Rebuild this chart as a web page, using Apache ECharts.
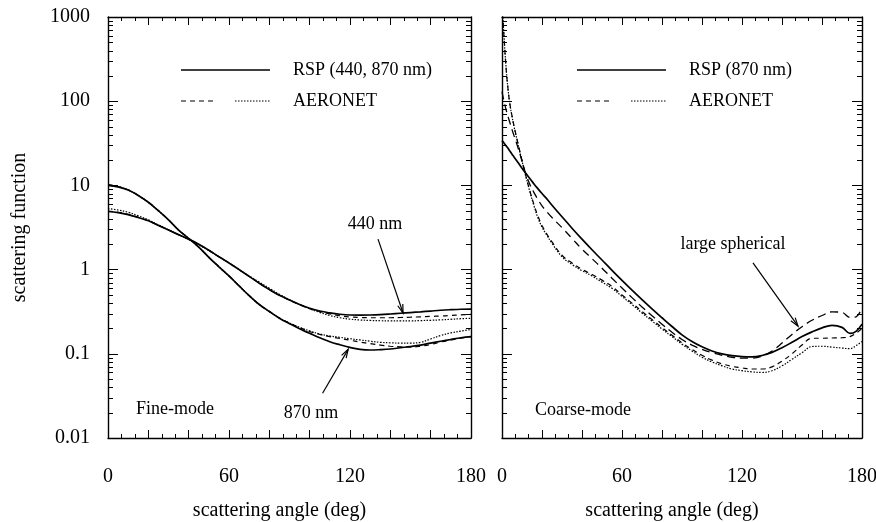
<!DOCTYPE html>
<html>
<head>
<meta charset="utf-8">
<script src="https://cdn.jsdelivr.net/npm/echarts@6/dist/echarts.min.js"></script>
<style>
  html, body { margin: 0; background: #fff; }
  #main { width: 876px; height: 522px; }
</style>
</head>
<body>
<div id="main"></div>
<script>
// ---- data ----
const yTickLabels = ['0.01', '0.1', '1', '10', '100', '1000'];
const yMinorSteps = [2, 3, 4, 5, 6, 7, 8, 9];
const yDecades = [0.01, 0.1, 1, 10, 100];
const xTickLabels = [0, 60, 120, 180];

// fine mode panel
const fineAngles = [0, 5, 10, 15, 20, 25, 30, 35, 40, 45, 50, 55, 60, 65, 70, 75, 80, 85, 90,
  95, 100, 105, 110, 115, 120, 125, 130, 135, 140, 145, 150, 155, 160, 165, 170, 175, 180];
const rsp440 = [4.9, 4.75, 4.5, 4.15, 3.8, 3.35, 2.95, 2.6, 2.3, 2.0, 1.7, 1.42, 1.2, 1.0, 0.83, 0.69, 0.58, 0.495, 0.435,
  0.385, 0.348, 0.322, 0.306, 0.295, 0.289, 0.288, 0.289, 0.292, 0.297, 0.303, 0.309, 0.315, 0.322, 0.329, 0.334, 0.338, 0.34];
const rsp870 = [10.0, 9.6, 8.8, 7.6, 6.3, 5.0, 3.9, 2.95, 2.35, 1.85, 1.4, 1.08, 0.84, 0.64, 0.49, 0.385, 0.318, 0.265, 0.228,
  0.198, 0.175, 0.155, 0.139, 0.128, 0.119, 0.113, 0.111, 0.112, 0.114, 0.118, 0.122, 0.127, 0.134, 0.141, 0.148, 0.155, 0.16];
const aer440Dash = [4.95, 4.8, 4.52, 4.17, 3.8, 3.36, 2.96, 2.6, 2.3, 2.0, 1.7, 1.42, 1.2, 1.0, 0.83, 0.69, 0.58, 0.495, 0.435,
  0.383, 0.343, 0.318, 0.298, 0.283, 0.274, 0.27, 0.268, 0.268, 0.268, 0.27, 0.272, 0.275, 0.278, 0.281, 0.285, 0.29, 0.295];
const aer440Dot = [5.3, 5.1, 4.8, 4.35, 3.9, 3.4, 2.98, 2.6, 2.28, 1.97, 1.68, 1.42, 1.2, 1.0, 0.84, 0.71, 0.6, 0.51, 0.44,
  0.385, 0.342, 0.31, 0.285, 0.268, 0.258, 0.252, 0.249, 0.247, 0.246, 0.246, 0.246, 0.248, 0.25, 0.253, 0.257, 0.261, 0.264];
const aer870Dash = [10.2, 9.7, 8.85, 7.6, 6.3, 5.0, 3.9, 2.95, 2.35, 1.85, 1.4, 1.08, 0.84, 0.64, 0.49, 0.385, 0.318, 0.266, 0.232,
  0.205, 0.184, 0.17, 0.16, 0.152, 0.145, 0.138, 0.132, 0.127, 0.123, 0.121, 0.12, 0.123, 0.129, 0.138, 0.146, 0.153, 0.16];
const aer870Dot = [10.1, 9.65, 8.8, 7.6, 6.3, 5.0, 3.9, 2.95, 2.35, 1.85, 1.4, 1.08, 0.84, 0.64, 0.49, 0.385, 0.318, 0.266, 0.232,
  0.206, 0.187, 0.172, 0.163, 0.157, 0.151, 0.146, 0.141, 0.137, 0.135, 0.134, 0.134, 0.137, 0.15, 0.165, 0.177, 0.186, 0.195];

// coarse mode panel
const coarseAngles = [0, 1, 2, 3, 4, 5, 6, 8, 10, 12, 14, 16, 18, 20, 22, 25, 30, 35, 40, 45, 50, 55, 60, 65, 70, 75, 80, 85,
  90, 95, 100, 105, 110, 115, 120, 125, 130, 135, 140, 145, 150, 155, 160, 165, 170, 174, 177, 180];
const rspCoarse = [34, 31.8, 29.6, 27.6, 25.4, 23.5, 21.8, 18.7, 16, 13.8, 12, 10.4, 9.1, 8.0, 7.1, 5.8, 4.25, 3.1, 2.3, 1.72, 1.3, 0.98, 0.745, 0.57, 0.44, 0.342, 0.268, 0.211,
  0.168, 0.14, 0.121, 0.108, 0.1, 0.095, 0.0925, 0.092, 0.0955, 0.104, 0.118, 0.137, 0.16, 0.182, 0.203, 0.218, 0.206, 0.175, 0.185, 0.225];
const aerCoarseLong = [130, 100, 80, 66, 55, 46, 39, 28, 19.5, 13.5, 10.2, 8.2, 6.8, 5.7, 5.0, 4.15, 3.15, 2.35, 1.75, 1.35, 1.04, 0.79, 0.605, 0.465, 0.36, 0.283, 0.225, 0.18,
  0.148, 0.127, 0.113, 0.103, 0.096, 0.091, 0.089, 0.089, 0.094, 0.108, 0.134, 0.17, 0.21, 0.25, 0.285, 0.315, 0.31, 0.27, 0.275, 0.35];
const aerCoarseShort = [1400, 580, 255, 140, 91, 67, 51, 31.5, 19.8, 12.8, 8.5, 5.9, 4.3, 3.35, 2.75, 2.13, 1.48, 1.2, 1.01, 0.875, 0.75, 0.63, 0.5, 0.4, 0.318, 0.255, 0.205, 0.166,
  0.135, 0.113, 0.096, 0.084, 0.076, 0.071, 0.068, 0.066, 0.066, 0.07, 0.082, 0.1, 0.127, 0.153, 0.153, 0.154, 0.155, 0.16, 0.175, 0.2];
const aerCoarseDot = [1500, 600, 260, 140, 90, 66, 50, 31, 19.5, 12.5, 8.3, 5.7, 4.1, 3.2, 2.65, 2.05, 1.42, 1.15, 0.97, 0.84, 0.71, 0.6, 0.48, 0.385, 0.305, 0.245, 0.197, 0.16,
  0.13, 0.108, 0.091, 0.08, 0.072, 0.066, 0.063, 0.061, 0.06, 0.063, 0.072, 0.086, 0.103, 0.122, 0.123, 0.12, 0.117, 0.115, 0.125, 0.14];

// annotations: [angle, value] positions in data space
const notes = [
  { grid: 0, text: '440 nm', at: [132.4, 3.5], from: [133.9, 2.3], to: [146.3, 0.305] },
  { grid: 0, text: '870 nm', at: [100.6, 0.0195], from: [106.4, 0.034], to: [119.1, 0.113] },
  { grid: 1, text: 'large spherical', at: [115.5, 2.0], from: [125.5, 1.2], to: [148, 0.213] }
];
const panelNames = [
  { grid: 0, text: 'Fine-mode', at: [13.9, 0.0222] },
  { grid: 1, text: 'Coarse-mode', at: [16.5, 0.0216] }
];

const FONT = '"Liberation Serif", "DejaVu Serif", serif';
const DASH = [5, 4];
const LONGDASH = [8, 5];
const DOT = [1.5, 1.5];

let myChart = echarts.init(document.getElementById('main'));

function xAxisFor(gridIndex, top) {
  return {
    type: 'value',
    gridIndex: gridIndex,
    position: top ? 'top' : 'bottom',
    min: 0,
    max: 180,
    interval: 20,
    axisLine: { show: true, onZero: false, lineStyle: { color: '#000', width: 1.4 } },
    axisTick: { show: true, inside: true, length: 8, lineStyle: { color: '#000', width: 1 } },
    minorTick: { show: true, splitNumber: 3, length: 4, lineStyle: { color: '#000', width: 1 } },
    splitLine: { show: false },
    axisLabel: top ? { show: false } : {
      show: true,
      margin: 29,
      color: '#000',
      fontFamily: FONT,
      fontSize: 20,
      formatter: v => (xTickLabels.indexOf(v) >= 0 ? String(v) : '')
    },
    name: top ? '' : 'scattering angle (deg)',
    nameLocation: 'middle',
    nameGap: 63,
    nameTextStyle: { color: '#000', fontFamily: FONT, fontSize: 20, padding: [0, 20, 0, 0] }
  };
}

function yAxisFor(gridIndex, right, labels) {
  return {
    type: 'log',
    logBase: 10,
    gridIndex: gridIndex,
    position: right ? 'right' : 'left',
    min: 0.01,
    max: 1000,
    axisLine: { show: true, onZero: false, lineStyle: { color: '#000', width: 1.4 } },
    axisTick: { show: true, inside: true, length: 10, lineStyle: { color: '#000', width: 1 } },
    minorTick: { show: false },
    splitLine: { show: false },
    axisLabel: labels ? {
      show: true,
      margin: 18,
      color: '#000',
      fontFamily: FONT,
      fontSize: 20,
      formatter: v => yTickLabels.find(s => Math.abs(Math.log10(+s) - Math.log10(v)) < 1e-6) || ''
    } : { show: false },
    name: labels ? 'scattering function' : '',
    nameLocation: 'middle',
    nameGap: 78,
    nameTextStyle: { color: '#000', fontFamily: FONT, fontSize: 20 }
  };
}

function line(name, xi, yi, angles, values, type, width) {
  return {
    name: name,
    type: 'line',
    xAxisIndex: xi,
    yAxisIndex: yi,
    data: angles.map((a, i) => [a, values[i]]),
    showSymbol: false,
    symbol: 'none',
    smooth: 0.4,
    clip: true,
    silent: true,
    lineStyle: { color: '#000', width: width, type: type }
  };
}

// log minor ticks (2..9 per decade) on both sides of a panel, placed through the axis scale
const minorTickValues = [];
yDecades.forEach(d => yMinorSteps.forEach(m => minorTickValues.push(m * d)));

function minorTicks(xi, yi) {
  return {
    type: 'custom',
    xAxisIndex: xi,
    yAxisIndex: yi,
    silent: true,
    clip: false,
    data: minorTickValues.map(v => [0, v]),
    encode: { x: 0, y: 1 },
    renderItem: function (params, api) {
      const l = api.coord([0, api.value(1)]);
      const r = api.coord([180, api.value(1)]);
      const y = Math.round(l[1]) + 0.5;
      return {
        type: 'group',
        children: [
          { type: 'line', shape: { x1: l[0], y1: y, x2: l[0] + 5, y2: y }, style: { stroke: '#000', lineWidth: 1 } },
          { type: 'line', shape: { x1: r[0] - 5, y1: y, x2: r[0], y2: y }, style: { stroke: '#000', lineWidth: 1 } }
        ]
      };
    }
  };
}

var option = {
  animation: false,
  backgroundColor: '#fff',
  grid: [
    { left: 108, top: 17, width: 363, height: 421, outerBoundsMode: 'none', containLabel: false },
    { left: 502, top: 17, width: 360, height: 421, outerBoundsMode: 'none', containLabel: false }
  ],
  xAxis: [xAxisFor(0, false), xAxisFor(0, true), xAxisFor(1, false), xAxisFor(1, true)],
  yAxis: [yAxisFor(0, false, true), yAxisFor(0, true, false), yAxisFor(1, false, false), yAxisFor(1, true, false)],
  series: [
    minorTicks(0, 0),
    minorTicks(2, 2),
    line('RSP 440', 0, 0, fineAngles, rsp440, 'solid', 1.7),
    line('RSP 870', 0, 0, fineAngles, rsp870, 'solid', 1.7),
    line('AERONET 440 a', 0, 0, fineAngles, aer440Dash, DASH, 1.2),
    line('AERONET 440 b', 0, 0, fineAngles, aer440Dot, DOT, 1.2),
    line('AERONET 870 a', 0, 0, fineAngles, aer870Dash, DASH, 1.2),
    line('AERONET 870 b', 0, 0, fineAngles, aer870Dot, DOT, 1.2),
    line('RSP coarse', 2, 2, coarseAngles, rspCoarse, 'solid', 1.7),
    line('AERONET coarse a', 2, 2, coarseAngles, aerCoarseLong, LONGDASH, 1.3),
    line('AERONET coarse b', 2, 2, coarseAngles, aerCoarseShort, DASH, 1.2),
    line('AERONET coarse c', 2, 2, coarseAngles, aerCoarseDot, DOT, 1.2)
  ]
};

myChart.setOption(option);

// legends and annotations
function legendBlock(x, label1) {
  const ls = { stroke: '#000', lineWidth: 1.6 };
  const ts = { fill: '#000', font: '18px ' + FONT, textVerticalAlign: 'middle' };
  return [
    { type: 'line', shape: { x1: x, y1: 70, x2: x + 89, y2: 70 }, style: ls },
    { type: 'text', x: x + 112, y: 70, style: Object.assign({ text: label1 }, ts) },
    { type: 'line', shape: { x1: x, y1: 101, x2: x + 36, y2: 101 }, style: { stroke: '#000', lineWidth: 1.2, lineDash: DASH } },
    { type: 'line', shape: { x1: x + 54, y1: 101, x2: x + 89, y2: 101 }, style: { stroke: '#000', lineWidth: 1.2, lineDash: DOT } },
    { type: 'text', x: x + 112, y: 101, style: Object.assign({ text: 'AERONET' }, ts) }
  ];
}

const graphics = [].concat(legendBlock(181, 'RSP (440, 870 nm)'), legendBlock(577, 'RSP (870 nm)'));

notes.forEach(n => {
  const p = myChart.convertToPixel({ gridIndex: n.grid }, n.at);
  const a = myChart.convertToPixel({ gridIndex: n.grid }, n.from);
  const b = myChart.convertToPixel({ gridIndex: n.grid }, n.to);
  graphics.push({ type: 'text', x: p[0], y: p[1], style: { text: n.text, fill: '#000', font: '18px ' + FONT, textAlign: 'center', textVerticalAlign: 'middle' } });
  graphics.push({ type: 'line', shape: { x1: a[0], y1: a[1], x2: b[0], y2: b[1] }, style: { stroke: '#000', lineWidth: 1.2 } });
  const ang = Math.atan2(b[1] - a[1], b[0] - a[0]);
  const len = 9, spread = 0.3;
  graphics.push({
    type: 'polyline',
    shape: { points: [
      [b[0] - len * Math.cos(ang - spread), b[1] - len * Math.sin(ang - spread)],
      [b[0], b[1]],
      [b[0] - len * Math.cos(ang + spread), b[1] - len * Math.sin(ang + spread)]
    ] },
    style: { stroke: '#000', lineWidth: 1.2, fill: null }
  });
});

panelNames.forEach(n => {
  const p = myChart.convertToPixel({ gridIndex: n.grid }, n.at);
  graphics.push({ type: 'text', x: p[0], y: p[1], style: { text: n.text, fill: '#000', font: '18px ' + FONT, textVerticalAlign: 'middle' } });
});

myChart.setOption({ graphic: graphics });

window.addEventListener('resize', function () { myChart.resize(); });
</script>
</body>
</html>
